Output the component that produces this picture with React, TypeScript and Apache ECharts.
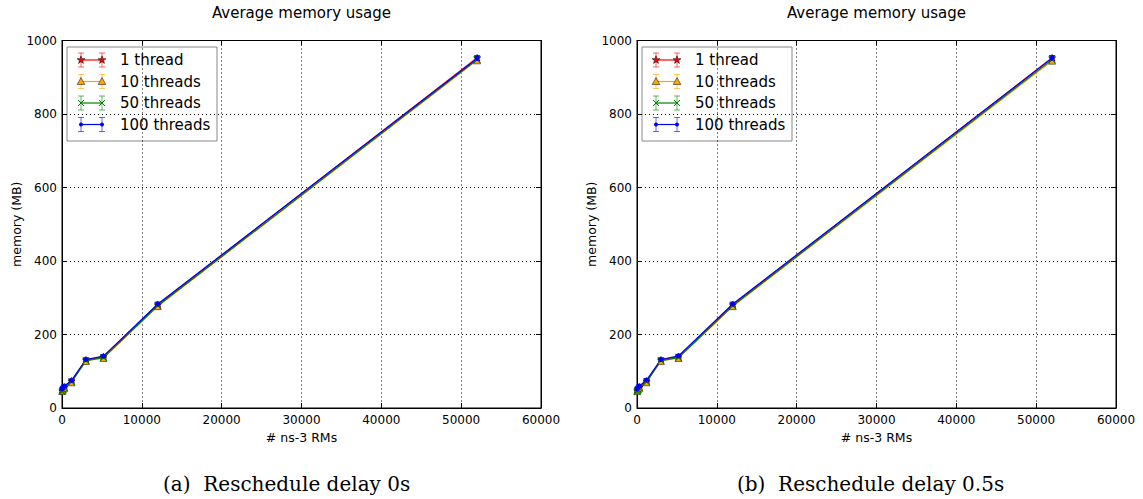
import React, { useEffect, useRef } from "react";
import * as echarts from "echarts";

// ---------- data ----------
const rmCounts = [30, 120, 300, 1200, 3000, 5200, 12000, 52000];
const seriesNames = ["1 thread", "10 threads", "50 threads", "100 threads"];

// delay 0s
const leftT1 = [47, 51, 57, 74, 131, 140, 281, 953];
const leftT10 = [46, 50, 55, 70, 128, 136, 277, 946];
const leftT50 = [45, 49, 54, 71, 129, 137, 278, 948];
const leftT100 = [52, 56, 60, 75, 132, 141, 283, 951];

// delay 0.5s
const rightT1 = [48, 52, 57, 73, 131, 140, 281, 953];
const rightT10 = [46, 50, 55, 70, 128, 136, 277, 945];
const rightT50 = [45, 49, 54, 71, 129, 137, 278, 948];
const rightT100 = [52, 56, 60, 76, 132, 142, 283, 952];

const errors = [3, 3, 3, 4, 4, 4, 5, 6];

const xTicksMax = 60000;
const xTickStep = 10000;
const yTicksMax = 1000;
const yTickStep = 200;

const chartTitle = "Average memory usage";
const xName = "# ns-3 RMs";
const yName = "memory (MB)";
const captions = ["(a)  Reschedule delay 0s", "(b)  Reschedule delay 0.5s"];

// ---------- styles ----------
const colors = ["#ff0000", "#ffa500", "#008000", "#0000ff"];
const SANS = "DejaVu Sans";
const STAR =
  "path://M50,0 L61,35 L98,35 L68,57 L79,91 L50,70 L21,91 L32,57 L2,35 L39,35 Z";
const XMARK =
  "path://M0,10 L10,0 L50,40 L90,0 L100,10 L60,50 L100,90 L90,100 L50,60 L10,100 L0,90 L40,50 Z";
const symbols = [STAR, "triangle", XMARK, "circle"];
const symbolSizes = [7, 7, 7, 5];

const panels = [
  { left: 62, data: [leftT1, leftT10, leftT50, leftT100], caption: captions[0], capX: 163 },
  { left: 637, data: [rightT1, rightT10, rightT50, rightT100], caption: captions[1], capX: 737 },
];
const GRID_TOP = 40.5;
const GRID_H = 367.5;
const GRID_W = 479;

function starPoints(cx: number, cy: number, r: number) {
  const pts: number[][] = [];
  for (let i = 0; i < 10; i++) {
    const rr = i % 2 === 0 ? r : r * 0.4;
    const a = -Math.PI / 2 + (i * Math.PI) / 5;
    pts.push([cx + rr * Math.cos(a), cy + rr * Math.sin(a)]);
  }
  return pts;
}

function legendGlyph(kind: number, cx: number, cy: number, color: string) {
  if (kind === 0)
    return {
      type: "polygon",
      shape: { points: starPoints(cx, cy, 4.2) },
      style: { fill: color, stroke: "#000", lineWidth: 0.5 },
    };
  if (kind === 1)
    return {
      type: "polygon",
      shape: { points: [[cx, cy - 4], [cx + 3.8, cy + 3], [cx - 3.8, cy + 3]] },
      style: { fill: color, stroke: "#000", lineWidth: 0.5 },
    };
  if (kind === 2)
    return {
      type: "group",
      children: [
        { type: "line", shape: { x1: cx - 3, y1: cy - 3, x2: cx + 3, y2: cy + 3 }, style: { stroke: color, lineWidth: 1 } },
        { type: "line", shape: { x1: cx - 3, y1: cy + 3, x2: cx + 3, y2: cy - 3 }, style: { stroke: color, lineWidth: 1 } },
      ],
    };
  return { type: "circle", shape: { cx, cy, r: 2 }, style: { fill: color } };
}

function buildLegend(left: number) {
  const children: any[] = [
    {
      type: "rect",
      shape: { x: left + 5, y: 47, width: 150, height: 94 },
      style: { fill: "#fff", stroke: "#888", lineWidth: 1 },
    },
  ];
  seriesNames.forEach((name, i) => {
    const cy = 60 + i * 21.5;
    const x1 = left + 19;
    const x2 = left + 40;
    const c = colors[i];
    children.push({ type: "line", shape: { x1, y1: cy, x2, y2: cy }, style: { stroke: c, lineWidth: 1.2 } });
    [x1, x2].forEach((x) => {
      children.push({ type: "line", shape: { x1: x, y1: cy - 7, x2: x, y2: cy + 7 }, style: { stroke: c, lineWidth: 1, opacity: 0.6 } });
      children.push({ type: "line", shape: { x1: x - 3, y1: cy - 7, x2: x + 3, y2: cy - 7 }, style: { stroke: c, lineWidth: 1, opacity: 0.6 } });
      children.push({ type: "line", shape: { x1: x - 3, y1: cy + 7, x2: x + 3, y2: cy + 7 }, style: { stroke: c, lineWidth: 1, opacity: 0.6 } });
      children.push(legendGlyph(i, x, cy, c));
    });
    children.push({
      type: "text",
      x: left + 58,
      y: cy,
      style: { text: name, font: `15px "${SANS}"`, fill: "#000", textVerticalAlign: "middle", verticalAlign: "middle" },
    });
  });
  return { type: "group", children };
}

function errorRender(color: string) {
  return (params: any, api: any) => {
    const x = api.value(0);
    const lo = api.coord([x, api.value(1)]);
    const hi = api.coord([x, api.value(2)]);
    const w = 3;
    const st = { stroke: color, lineWidth: 1 };
    return {
      type: "group",
      children: [
        { type: "line", shape: { x1: lo[0], y1: lo[1], x2: hi[0], y2: hi[1] }, style: st },
        { type: "line", shape: { x1: lo[0] - w, y1: lo[1], x2: lo[0] + w, y2: lo[1] }, style: st },
        { type: "line", shape: { x1: hi[0] - w, y1: hi[1], x2: hi[0] + w, y2: hi[1] }, style: st },
      ],
    };
  };
}

const plainNum = (v: number) => String(v);

export default function App() {
  const ref = useRef<HTMLDivElement>(null);
  useEffect(() => {
    if (!ref.current) return;
    const chart = echarts.init(ref.current, undefined, { renderer: "svg" });

    const grids: any[] = [];
    const xAxes: any[] = [];
    const yAxes: any[] = [];
    const series: any[] = [];
    const graphics: any[] = [];

    panels.forEach((p, pi) => {
      grids.push({ left: p.left, top: GRID_TOP, width: GRID_W, height: GRID_H, show: true, borderColor: "#000", borderWidth: 1, backgroundColor: "transparent" });
      const tick = { show: true, inside: true, length: 5, lineStyle: { color: "#000", width: 1 } };
      xAxes.push({
        type: "value", gridIndex: pi, min: 0, max: xTicksMax, interval: xTickStep, position: "bottom",
        name: xName, nameLocation: "middle", nameGap: 22,
        nameTextStyle: { fontFamily: SANS, fontSize: 12.5, color: "#000" },
        axisLine: { show: true, onZero: false, lineStyle: { color: "#000", width: 1 } },
        axisTick: tick,
        axisLabel: { fontFamily: SANS, fontSize: 12, color: "#000", margin: 6, formatter: plainNum },
        splitLine: { show: true, lineStyle: { color: "#000", type: [1, 3], width: 1 } },
      });
      xAxes.push({
        type: "value", gridIndex: pi, min: 0, max: xTicksMax, interval: xTickStep, position: "top",
        axisLine: { show: true, onZero: false, lineStyle: { color: "#000" } }, axisTick: tick,
        axisLabel: { show: false }, splitLine: { show: false },
      });
      yAxes.push({
        type: "value", gridIndex: pi, min: 0, max: yTicksMax, interval: yTickStep, position: "left",
        name: yName, nameLocation: "middle", nameGap: 38, nameRotate: 90,
        nameTextStyle: { fontFamily: SANS, fontSize: 12.5, color: "#000" },
        axisLine: { show: true, onZero: false, lineStyle: { color: "#000", width: 1 } },
        axisTick: tick,
        axisLabel: { fontFamily: SANS, fontSize: 12, color: "#000", margin: 5, formatter: plainNum },
        splitLine: { show: true, lineStyle: { color: "#000", type: [1, 3], width: 1 } },
      });
      yAxes.push({
        type: "value", gridIndex: pi, min: 0, max: yTicksMax, interval: yTickStep, position: "right",
        axisLine: { show: true, onZero: false, lineStyle: { color: "#000" } }, axisTick: tick,
        axisLabel: { show: false }, splitLine: { show: false },
      });

      p.data.forEach((ys, si) => {
        const c = colors[si];
        series.push({
          type: "custom",
          name: seriesNames[si],
          xAxisIndex: pi * 2,
          yAxisIndex: pi * 2,
          renderItem: errorRender(c),
          encode: { x: 0, y: [1, 2] },
          data: rmCounts.map((x, i) => [x, ys[i] - errors[i], ys[i] + errors[i]]),
          z: 2,
          silent: true,
        });
        series.push({
          type: "line",
          name: seriesNames[si],
          xAxisIndex: pi * 2,
          yAxisIndex: pi * 2,
          data: rmCounts.map((x, i) => [x, ys[i]]),
          symbol: symbols[si],
          symbolSize: symbolSizes[si],
          showAllSymbol: true,
          lineStyle: { color: c, width: 1.2 },
          itemStyle: {
            color: c,
            borderColor: si < 2 ? "#000" : c,
            borderWidth: si < 2 ? 0.5 : 0,
          },
          z: 2,
        });
      });

      graphics.push({
        type: "text",
        x: p.left + GRID_W / 2,
        y: 13,
        style: { text: chartTitle, font: `15px "${SANS}"`, fill: "#000", textAlign: "center", textVerticalAlign: "middle", align: "center", verticalAlign: "middle" },
      });
      graphics.push(buildLegend(p.left));
      graphics.push({
        type: "text",
        x: p.capX,
        y: 484,
        style: { text: p.caption, font: `20px "DejaVu Serif"`, fill: "#000", textVerticalAlign: "middle", verticalAlign: "middle" },
      });
    });

    chart.setOption({
      animation: false,
      backgroundColor: "#fff",
      grid: grids,
      xAxis: xAxes,
      yAxis: yAxes,
      series,
      graphic: graphics,
    });
    return () => chart.dispose();
  }, []);

  return <div ref={ref} style={{ position: "absolute", left: 0, top: 0, width: 1143, height: 499 }} />;
}
